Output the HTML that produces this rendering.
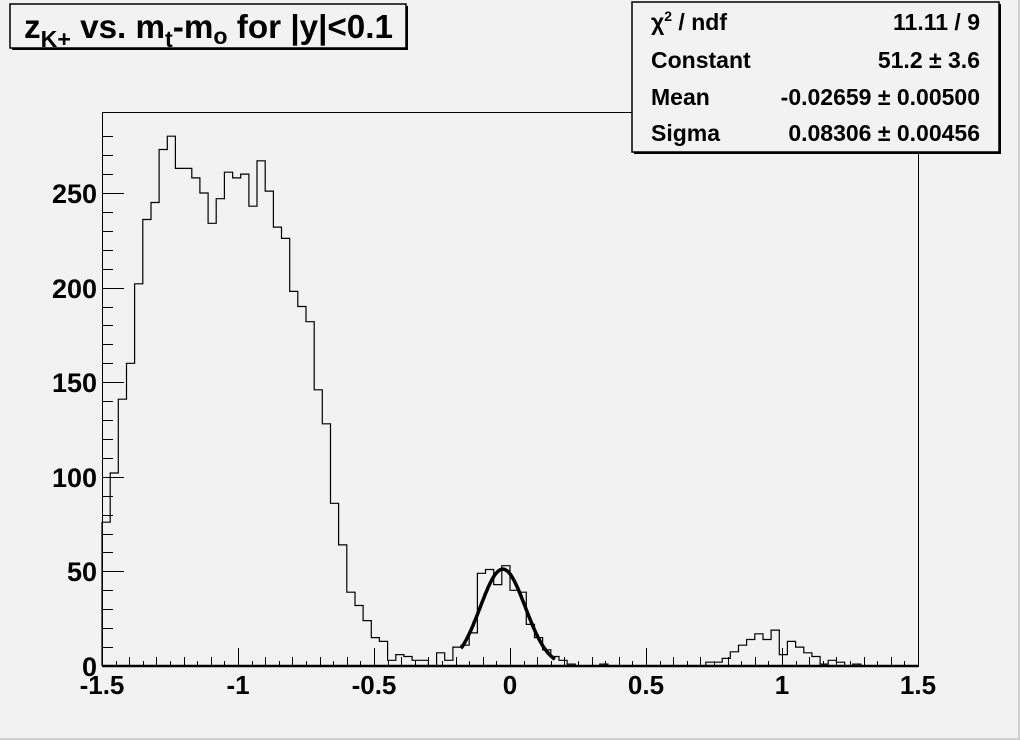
<!DOCTYPE html>
<html><head><meta charset="utf-8"><style>
html,body{margin:0;padding:0;background:#f2f2f2;}
svg{display:block;font-family:"Liberation Sans",Arial,sans-serif;font-weight:bold;}
</style></head><body>
<svg id="s" width="1020" height="740" viewBox="0 0 1020 740" xmlns="http://www.w3.org/2000/svg">
<rect x="0" y="0" width="1020" height="740" fill="#f2f2f2"/>
<rect x="1018" y="0" width="2" height="740" fill="#cfcfcf"/>
<rect x="0" y="738" width="1020" height="2" fill="#cfcfcf"/>
<rect x="102.5" y="112.5" width="816" height="554" fill="none" stroke="#000" stroke-width="1"/>
<g id="ticks" stroke="#000" stroke-width="1"></g>
<path id="h" fill="none" stroke="#000" stroke-width="1.2"/>
<path id="g" fill="none" stroke="#000" stroke-width="3.5"/>
<line x1="102" y1="666" x2="918" y2="666" stroke="#000" stroke-width="2.5"/>
<g font-size="27" text-anchor="end">
<text x="97" y="676">0</text><text x="97" y="581">50</text><text x="97" y="487">100</text>
<text x="97" y="392">150</text><text x="97" y="298">200</text><text x="97" y="203">250</text>
</g>
<g font-size="26" text-anchor="middle">
<text x="102" y="694">-1.5</text><text x="238" y="694">-1</text><text x="374" y="694">-0.5</text>
<text x="510" y="694">0</text><text x="646" y="694">0.5</text><text x="782" y="694">1</text><text x="918" y="694">1.5</text>
</g>
<rect x="12" y="6" width="396" height="44" fill="#000"/>
<rect x="10" y="4" width="396" height="44" fill="#f2f2f2" stroke="#000" stroke-width="1.5"/>
<text x="24" y="38" font-size="33" textLength="369" lengthAdjust="spacingAndGlyphs">z<tspan font-size="23" dy="9">K+</tspan><tspan dy="-9"> vs. m</tspan><tspan font-size="23" dy="9">t</tspan><tspan dy="-9">-m</tspan><tspan font-size="23" dy="6">o</tspan><tspan dy="-6"> for |y|&lt;0.1</tspan></text>
<rect x="634" y="4" width="367" height="150" fill="#000"/>
<rect x="632" y="2" width="367" height="150" fill="#f2f2f2" stroke="#000" stroke-width="1.5"/>
<g font-size="23">
<text x="651" y="30">χ<tspan font-size="14" dy="-9">2</tspan><tspan dy="9"> / ndf</tspan></text>
<text x="651" y="68">Constant</text><text x="651" y="105">Mean</text><text x="651" y="141">Sigma</text>
<g text-anchor="end">
<text x="980" y="30">11.11 / 9</text>
<text x="980" y="68">51.2 ± 3.6</text>
<text x="980" y="105">-0.02659 ± 0.00500</text>
<text x="980" y="141">0.08306 ± 0.00456</text>
</g></g>
</svg>
<script>
var d=[76,102,141,160,202,236,245,273,280,263,263,258,250,234,247,261,258,260,243,267,251,232,226,198,190,182,146,128,86,64,39,32,24,15,13,3,6,5,3,3,
0,7,3,10,11,17.5,49,51,43,53,40,39,22,15,8.5,5,3,1,0,0,0,1,0,0,0,0,0,0,0,0,0,0,0,0,2,2,4,7.5,11,14,17,14,19,6,13,10,7,5,1,3,2,0,1,0,0,0,0,0,0,0];
var X=function(v){return 102+(v+1.5)*272;},Y=function(c){return 666-c*1.892;};
var p="M102,666";for(var i=0;i<100;i++){var x0=102+i*8.16,x1=x0+8.16,y=Y(d[i]);p+=" L"+x0.toFixed(1)+","+y.toFixed(1)+" L"+x1.toFixed(1)+","+y.toFixed(1);}
p+=" L918,666";document.getElementById("h").setAttribute("d",p);
var g="";for(var v=-0.18;v<=0.17;v+=0.005){var c=51.2*Math.exp(-0.5*Math.pow((v+0.02659)/0.08306,2));g+=(g?" L":"M")+X(v).toFixed(1)+","+Y(c).toFixed(1);}
document.getElementById("g").setAttribute("d",g);
var t="";for(var k=0;k<=60;k++){var x=102+k*272/20;x=Math.round(x)+0.5;var L=(k%10==0)?18:(k%2==0?9:5);t+='<line x1="'+x+'" y1="666" x2="'+x+'" y2="'+(666-L)+'"/>';}
for(var c=0;c<=280;c+=10){var y=Math.round(Y(c))+0.5;var L=(c%50==0)?22:11;t+='<line x1="102" y1="'+y+'" x2="'+(102+L)+'" y2="'+y+'"/>';}
document.getElementById("ticks").innerHTML=t;
</script>
</body></html>
